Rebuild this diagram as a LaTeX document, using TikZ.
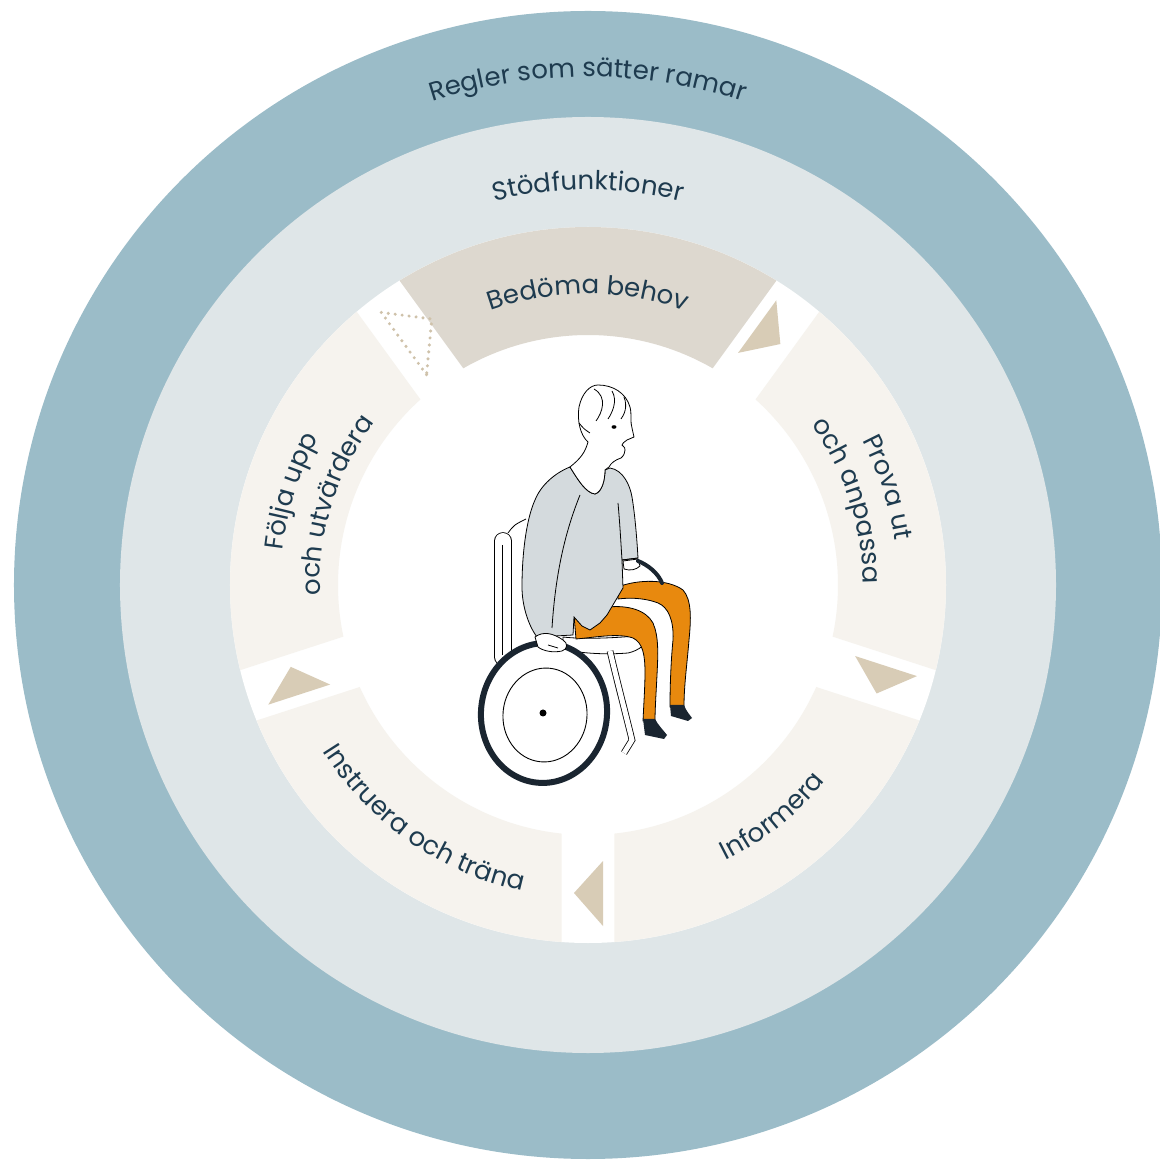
\documentclass[tikz,border=0pt]{standalone}
\usepackage{fontspec}
\usetikzlibrary{decorations.text}
\newfontfamily\ringfont{Poppins}
\newcommand\ringtext{\ringfont\fontsize{26pt}{30pt}\selectfont}
\definecolor{outerblue}{HTML}{9BBCC8}
\definecolor{ringgray}{HTML}{DFE6E8}
\definecolor{segcream}{HTML}{F6F3EE}
\definecolor{bedomafill}{HTML}{DDD8CF}
\definecolor{arrowbeige}{HTML}{D8CCB6}
\definecolor{dotbeige}{HTML}{CFC2AA}
\definecolor{textnavy}{HTML}{1E3B4F}
\definecolor{shirtgray}{HTML}{D4DADD}
\definecolor{pantsorange}{HTML}{E8890E}
\definecolor{wheeldark}{HTML}{1A2530}
\tikzset{
  ringlabel/.style={decorate, decoration={text along path, text align=center, text color=textnavy}},
  arrowmark/.style={fill=arrowbeige},
  outline/.style={draw=black, line width=0.8pt},
  shirtfill/.style={outline, fill=shirtgray},
  pantsfill/.style={outline, fill=pantsorange},
  tube/.style={outline, double=white, double distance=#1},
}

\begin{document}
\begin{tikzpicture}[x=1pt,y=1pt]
\useasboundingbox (-588,-576) rectangle (571,585);
\fill[outerblue] (0,0) circle[radius=574];
\fill[ringgray] (0,0) circle[radius=468];
\fill[white] (0,0) circle[radius=358];
\foreach \c/\col in {90/bedomafill,18/segcream,-54/segcream,-126/segcream,162/segcream}
\fill[\col] (\c-31.76:358) arc[start angle=\c-31.76, end angle=\c+31.76, radius=358] -- (\c+29.92:250) arc[start angle=\c+29.92, end angle=\c-29.92, radius=250] -- cycle;
\foreach \g in {54,-18,-90,198}
\fill[arrowmark, rotate=\g] (276,15) -- (341,15) -- (308,-14) -- cycle;
\draw[dotbeige, line width=3.4pt, line cap=round, dash pattern=on 0pt off 7pt, rotate=126] (265,7) -- (342,7) -- (307,-30) -- cycle;

\foreach \a/\r/\txt in {90/508/Regler som sätter ramar, 90/395/Stödfunktioner, 90/291/Bedöma behov, 18/310/Prova ut, 18/275/och anpassa, 162.5/307/Följa upp, 162.5/268/och utvärdera}
\path[ringlabel, decoration={text/.expanded={|\noexpand\ringtext|\txt}}] (\a+70:\r) arc[start angle=\a+70, end angle=\a-70, radius=\r];
\foreach \a/\r/\txt in {-51.5/308/Informera, -125/313/Instruera och träna}
\path[ringlabel, decoration={text/.expanded={|\noexpand\ringtext|\txt}}] (\a-70:\r) arc[start angle=\a-70, end angle=\a+70, radius=\r];

\draw[tube=16pt, line cap=round] (-85,-72) -- (-85,44);
\draw[outline] (-86,40) -- (-86,-70);
\draw[outline] (-80,52) .. controls (-74,60) .. (-62,66);
\filldraw[outline, fill=white] (-25,-52) .. controls (0,-55) and (40,-52) .. (58,-50) .. controls (62,-58) and (50,-66) .. (40,-68) .. controls (15,-70) and (-10,-68) .. (-25,-64) -- cycle;
\draw[tube=5pt] (22,-66) .. controls (30,-100) and (38,-130) .. (44,-155) -- (36,-168);
\filldraw[pantsfill] (30,-2) .. controls (50,6) and (80,6) .. (95,-5) .. controls (104,-15) and (103,-35) .. (101,-55) .. controls (99,-80) and (96,-100) .. (96,-122) -- (82,-122) .. controls (82,-100) and (83,-75) .. (85,-55) .. controls (86,-35) and (80,-22) .. (70,-18) .. controls (60,-14) and (45,-12) .. (30,-14) -- cycle;
\filldraw[pantsfill] (-14,-30) -- (20,-22) .. controls (40,-20) and (58,-25) .. (65,-38) .. controls (71,-52) and (70,-70) .. (69,-90) .. controls (68,-110) and (67,-125) .. (67,-136) -- (55,-136) .. controls (56,-115) and (57,-100) .. (57,-88) .. controls (57,-70) and (55,-58) .. (45,-53) .. controls (30,-48) and (10,-52) .. (-12,-54) -- cycle;
\fill[wheeldark] (55,-134) -- (67,-134) .. controls (70,-140) and (76,-146) .. (79,-150) -- (76,-154) -- (57,-150) -- cycle;
\fill[wheeldark] (82,-120) -- (96,-120) .. controls (98,-126) and (102,-130) .. (104,-133) -- (100,-136) -- (83,-131) -- cycle;
\filldraw[shirtfill] (-18,118) .. controls (-10,105) and (-2,92) .. (7,91) .. controls (14,93) and (17,105) .. (17,115) -- (22,117) .. controls (35,115) and (42,100) .. (44,88) .. controls (47,70) and (49,45) .. (50,27) -- (34,25) -- (35,-3) -- (19,-30) -- (12,-38) -- (2,-45) -- (-6,-41) -- (-14,-32) -- (-15,-50) -- (-51,-52) .. controls (-60,-40) and (-66,-20) .. (-66,-2) .. controls (-66,30) and (-62,65) .. (-53,85) .. controls (-47,100) and (-33,112) .. (-18,118) -- cycle;
\draw[outline] (30,82) .. controls (32,60) and (33,40) .. (34,25);
\draw[outline] (-8,90) .. controls (-20,60) and (-32,20) .. (-36,-43);
\filldraw[outline, fill=white] (-18,118) .. controls (-8,126) and (-3,132) .. (0,143) .. controls (-8,150) and (-11,165) .. (-9,178) .. controls (-6,192) and (2,200) .. (10,200) .. controls (25,200) and (38,192) .. (42,178) .. controls (44,170) and (42,163) .. (44,157) -- (46,148) -- (39,145) .. controls (35,142) .. (34,140) .. controls (37,137) .. (37,135) .. controls (36,130) .. (33,127) .. controls (27,125) and (23,122) .. (21,118) -- (17,115) .. controls (17,105) and (14,93) .. (7,91) .. controls (-2,92) and (-10,105) .. (-18,118) -- cycle;
\draw[outline] (6,196) .. controls (20,188) and (14,172) .. (8,164);
\draw[outline] (24,194) .. controls (30,184) and (24,172) .. (20,166);
\draw[outline] (36,188) .. controls (40,178) and (36,170) .. (33,166);
\draw[outline] (-9,162) .. controls (-4,156) .. (2,152);
\fill (26,158) ellipse[x radius=2.5, y radius=1.8];
\filldraw[outline, fill=white] (35,24) -- (36,16) .. controls (42,14) and (48,15) .. (52,19) -- (50,26) -- cycle;
\draw[outline] (34,25) -- (50,27);
\draw[wheeldark, line width=4pt, line cap=round] (50,24) .. controls (60,20) and (70,12) .. (74,2);
\filldraw[fill=white, draw=wheeldark, line width=6pt, rotate around={-6:(-44,-128)}] (-44,-128) ellipse[x radius=63, y radius=70];
\draw[line width=0.9pt, rotate around={-6:(-43,-130)}] (-43,-130) ellipse[x radius=42, y radius=47];
\fill (-45,-128) circle[radius=3.5];
\filldraw[outline, fill=white] (-53,-52) .. controls (-45,-46) and (-35,-48) .. (-25,-55) .. controls (-20,-58) and (-20,-64) .. (-26,-66) .. controls (-35,-68) and (-45,-66) .. (-50,-62) -- cycle;
\draw[outline] (-40,-60) -- (-30,-63);
\end{tikzpicture}
\end{document}
